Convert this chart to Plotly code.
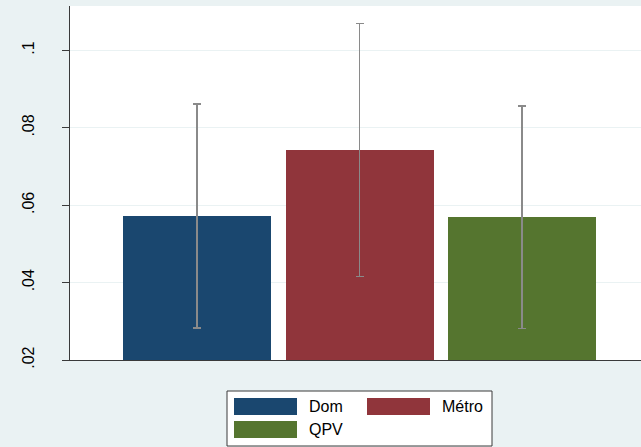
import plotly.graph_objects as go

# Data
categories = ["Dom", "Métro", "QPV"]
means = [0.0572, 0.0743, 0.0570]
upper = [0.0861, 0.1070, 0.0857]
lower = [0.0282, 0.0416, 0.0281]
colors = ["#1A476F", "#90353B", "#55752F"]
tick_vals = [0.02, 0.04, 0.06, 0.08, 0.10]
tick_text = [".02", ".04", ".06", ".08", ".1"]

W, H = 641, 447
L, R, T, B = 70, 0, 6, 87
PW, PH = W - L - R, H - T - B

def px(x):
    return (x - L) / PW

def py(y):
    return (H - B - y) / PH

FONT = "Liberation Sans, Arial, Helvetica, sans-serif"
BG = "#EAF2F3"
AX = "#3a3a3a"

fig = go.Figure()
xs = [1, 2, 3]
for i, cat in enumerate(categories):
    fig.add_trace(go.Bar(
        x=[xs[i]], y=[means[i]], name=cat, width=0.911,
        marker=dict(color=colors[i], line=dict(width=0)),
        error_y=dict(type="data", symmetric=False,
                     array=[upper[i] - means[i]],
                     arrayminus=[means[i] - lower[i]],
                     color="#8a8a8a", thickness=1.6, width=4),
        showlegend=False,
    ))

# Custom legend (Stata style)
shapes = [dict(type="rect", xref="paper", yref="paper",
               x0=px(227), x1=px(492), y0=py(446), y1=py(391),
               fillcolor="white", line=dict(color=AX, width=1), layer="above")]
annotations = []
legend_pos = [(234, 398), (367, 398), (234, 421)]
for i, cat in enumerate(categories):
    sx, sy = legend_pos[i]
    shapes.append(dict(type="rect", xref="paper", yref="paper",
                       x0=px(sx), x1=px(sx + 63), y0=py(sy + 17), y1=py(sy),
                       fillcolor=colors[i], line=dict(color=colors[i], width=0),
                       layer="above"))
    annotations.append(dict(xref="paper", yref="paper", x=px(sx + 73), y=py(sy + 8.5),
                            text=cat, showarrow=False, xanchor="left", yanchor="middle",
                            font=dict(family=FONT, size=16, color="#000000")))

fig.update_layout(
    width=W, height=H,
    margin=dict(l=L, r=R, t=T, b=B),
    paper_bgcolor=BG, plot_bgcolor="white",
    font=dict(family=FONT, size=16, color="#000000"),
    bargap=0,
    shapes=shapes, annotations=annotations,
    xaxis=dict(range=[0.2185, 3.732], showticklabels=False, ticks="",
               showgrid=False, zeroline=False, showline=True,
               linecolor=AX, linewidth=1.2, mirror=False, fixedrange=True),
    yaxis=dict(range=[0.02, 0.1115], tickvals=tick_vals, ticktext=tick_text,
               tickangle=-90, ticks="outside", ticklen=7, tickcolor=AX, tickwidth=1,
               showgrid=True, gridcolor=BG, gridwidth=1, zeroline=False,
               showline=True, linecolor=AX, linewidth=1.2,
               tickfont=dict(family=FONT, size=16, color="#000000"),
               ticklabelstandoff=22),
)

fig.write_html("out.html")
